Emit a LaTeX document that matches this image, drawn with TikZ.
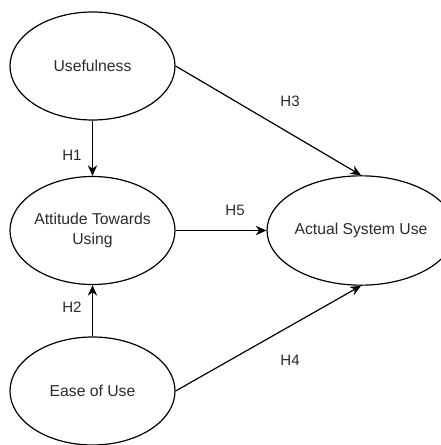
\documentclass[tikz,border=0pt]{standalone}
\usepackage{fontspec}
\setmainfont{Liberation Sans}
\usepackage{tikz}
\usetikzlibrary{shapes.geometric, arrows.meta, positioning}
\definecolor{InkGray}{HTML}{2B2B2B}
\tikzset{
  % Node styles
  construct/.style={ellipse, draw=black, line width=0.9pt, fill=white, minimum width=123.75pt, minimum height=81pt, inner sep=0pt, font=\fontsize{11.8}{15}\selectfont, text=InkGray, align=center},
  hyplabel/.style={font=\fontsize{11.3}{13}\selectfont, text=InkGray},
  % Arrow styles
  arrow/.style={-{Stealth[length=8pt,width=7pt]}, line width=0.9pt, black}
}

\begin{document}
\begin{tikzpicture}[x=0.75pt, y=-0.75pt]
  \useasboundingbox (0,0) rectangle (440,445);

  % Constructs
  \node[construct] (useful) at (92.5,66) {Usefulness};
  \node[construct] (attitude) at (92.5,230.5) {Attitude Towards\\Using};
  \node[construct] (ease) at (92.5,391) {Ease of Use};
  \node[construct, minimum width=117pt, minimum height=82pt] (actual) at (361,230.5) {Actual System Use};

  % Hypotheses
  \draw[arrow] (useful.south) -- (attitude.north);
  \draw[arrow] (ease.north) -- (attitude.south);
  \draw[arrow] (useful.east) -- (actual.north);
  \draw[arrow] (attitude.east) -- (actual.west);
  \draw[arrow] (ease.east) -- (actual.south);

  % Labels
  \node[hyplabel] (h1) at (72,155) {H1};
  \node[hyplabel] (h2) at (72,307) {H2};
  \node[hyplabel] (h3) at (290,101) {H3};
  \node[hyplabel] (h4) at (290,360) {H4};
  \node[hyplabel] (h5) at (235,210) {H5};
\end{tikzpicture}
\end{document}
